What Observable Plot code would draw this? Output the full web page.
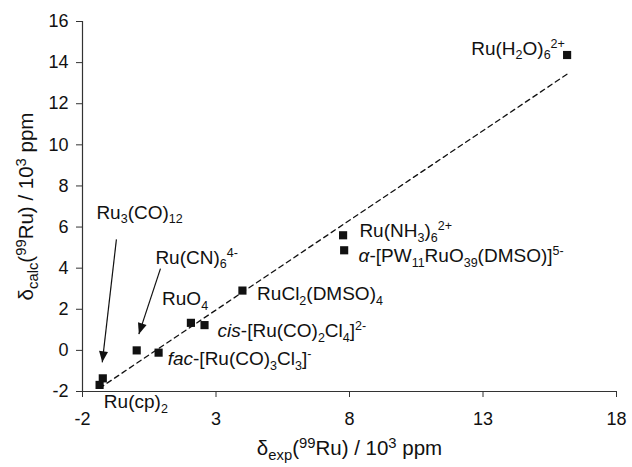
<!DOCTYPE html>
<html><head><meta charset="utf-8">
<script src="https://cdn.jsdelivr.net/npm/d3@7"></script>
<script src="https://cdn.jsdelivr.net/npm/@observablehq/plot@0.6"></script>
<style>
body{margin:0;background:#fff;}
svg{font-family:"Liberation Sans",Arial,Helvetica,sans-serif;}
</style></head><body><div id="chart"></div>
<script>
// ---- data ----
const compounds = ["Ru(cp)2","Ru3(CO)12","Ru(CN)6 4-","fac-[Ru(CO)3Cl3]-","RuO4","cis-[Ru(CO)2Cl4]2-","RuCl2(DMSO)4","Ru(NH3)6 2+","a-[PW11RuO39(DMSO)]5-","Ru(H2O)6 2+"];
const deltaExp  = [-1.36, -1.24, 0.03, 0.85, 2.06, 2.57, 3.99, 7.76, 7.80, 16.15];
const deltaCalc = [-1.68, -1.36, 0.00, -0.11, 1.34, 1.23, 2.91, 5.60, 4.87, 14.37];

// label markup (_{} subscript, ^{} superscript, *..* italic) and label anchors (data units)
const labelText = ["Ru(cp)_{2}","Ru_{3}(CO)_{12}","Ru(CN)_{6}^{4-}","*fac*-[Ru(CO)_{3}Cl_{3}]^{-}","RuO_{4}","*cis*-[Ru(CO)_{2}Cl_{4}]^{2-}","RuCl_{2}(DMSO)_{4}","Ru(NH_{3})_{6}^{2+}","*α*-[PW_{11}RuO_{39}(DMSO)]^{5-}","Ru(H_{2}O)_{6}^{2+}"];
const labelX = [-1.20, -1.48, 0.73, 1.19, 0.98, 3.06, 4.54, 8.37, 8.34, 12.56];
const labelY = [-2.52, 6.70, 4.51, -0.42, 2.49, 0.95, 2.73, 5.81, 4.59, 14.67];

// annotation arrows (data units)
const arrowX1 = [-0.73, 0.92];
const arrowY1 = [5.40, 3.98];
const arrowX2 = [-1.26, 0.11];
const arrowY2 = [-0.58, 0.79];

const xTicks = [-2, 3, 8, 13, 18];
const yTicks = [-2, 0, 2, 4, 6, 8, 10, 12, 14, 16];
const xDomain = [-2, 18];
const yDomain = [-2, 16];
const xTitle = "δ_{exp}(^{99}Ru) / 10^{3} ppm";
const yTitle = "δ_{calc}(^{99}Ru) / 10^{3} ppm";

const points = compounds.map((c, i) => ({c, x: deltaExp[i], y: deltaCalc[i]}));
const labels = labelText.map((t, i) => ({t, x: labelX[i], y: labelY[i]}));
const arrows = arrowX1.map((d, i) => ({x1: d, y1: arrowY1[i], x2: arrowX2[i], y2: arrowY2[i]}));

const ink = "#111";
const fmt = d => String(d);
const plot = Plot.plot({
  width: 632, height: 467,
  marginLeft: 82, marginRight: 16, marginTop: 21, marginBottom: 76,
  x: {domain: xDomain},
  y: {domain: yDomain},
  style: {fontFamily: "'Liberation Sans', Arial, sans-serif", background: "#fff", color: ink},
  marks: [
    Plot.ruleX([xDomain[0]], {stroke: "#333", strokeWidth: 1.2}),
    Plot.ruleY([yDomain[0]], {stroke: "#333", strokeWidth: 1.2}),
    Plot.axisX({ticks: xTicks, tickFormat: fmt, tickSize: 6, tickPadding: 15, fontSize: 18, label: null, stroke: "#333", color: ink}),
    Plot.axisY({ticks: yTicks, tickFormat: fmt, tickSize: 6, tickPadding: 8, fontSize: 18, label: null, stroke: "#333", color: ink}),
    Plot.linearRegressionY(points, {x: "x", y: "y", ci: 0, stroke: ink, strokeWidth: 1.3, strokeDasharray: "5,4"}),
    Plot.link(arrows, {x1: "x1", y1: "y1", x2: "x2", y2: "y2", stroke: ink, strokeWidth: 1.2, markerEnd: "arrow"}),
    Plot.dot(points, {x: "x", y: "y", symbol: "square", r: 4.6, fill: ink, stroke: "none"}),
    Plot.text(labels, {x: "x", y: "y", text: "t", textAnchor: "start", fontSize: 19, fill: ink}),
    Plot.text([xTitle], {frameAnchor: "bottom", textAnchor: "middle", lineAnchor: "middle", dy: 57, fontSize: 20.5, fill: ink}),
    Plot.text([yTitle], {frameAnchor: "left", textAnchor: "middle", lineAnchor: "middle", dx: -56, rotate: -90, fontSize: 20.5, fill: ink})
  ]
});

// rich text: sub/superscripts, italics
function parseMarkup(s){
  const out = []; let i = 0, italic = false, buf = "";
  const push = (t, type) => { if (t) out.push({t, type, italic}); };
  while (i < s.length) {
    const c = s[i];
    if ((c === "_" || c === "^") && s[i+1] === "{") {
      push(buf, "n"); buf = "";
      const j = s.indexOf("}", i);
      push(s.slice(i+2, j), c === "_" ? "sub" : "sup");
      i = j + 1;
    } else if (c === "*") {
      push(buf, "n"); buf = ""; italic = !italic; i++;
    } else { buf += c; i++; }
  }
  push(buf, "n");
  return out;
}
document.getElementById("chart").appendChild(plot);
plot.querySelectorAll("text").forEach(el => {
  const s = el.textContent;
  if (!/[_^]\{|\*/.test(s)) return;
  const fs = parseFloat(getComputedStyle(el).fontSize) || 19;
  const scale = fs > 20 ? 0.72 : 0.66;
  const parts = parseMarkup(s);
  while (el.firstChild) el.removeChild(el.firstChild);
  let cur = 0;
  parts.forEach(p => {
    const ts = document.createElementNS("http://www.w3.org/2000/svg", "tspan");
    const target = p.type === "sub" ? 0.24 * fs : p.type === "sup" ? -0.36 * fs : 0;
    if (target !== cur) { ts.setAttribute("dy", (target - cur).toFixed(2)); cur = target; }
    if (p.type !== "n") ts.setAttribute("font-size", (scale * fs).toFixed(1));
    if (p.italic) ts.setAttribute("font-style", "italic");
    ts.textContent = p.t;
    el.appendChild(ts);
  });
});
// filled triangular arrowheads
plot.querySelectorAll("marker").forEach(m => {
  m.setAttribute("viewBox", "-12 -5 12 10");
  m.setAttribute("markerWidth", "12");
  m.setAttribute("markerHeight", "10");
  m.setAttribute("refX", "0");
  m.setAttribute("refY", "0");
  m.setAttribute("markerUnits", "userSpaceOnUse");
  m.innerHTML = '<path d="M-11,-4.5L0,0L-11,4.5Z" fill="#111" stroke="none"/>';
});
</script>
</body></html>
